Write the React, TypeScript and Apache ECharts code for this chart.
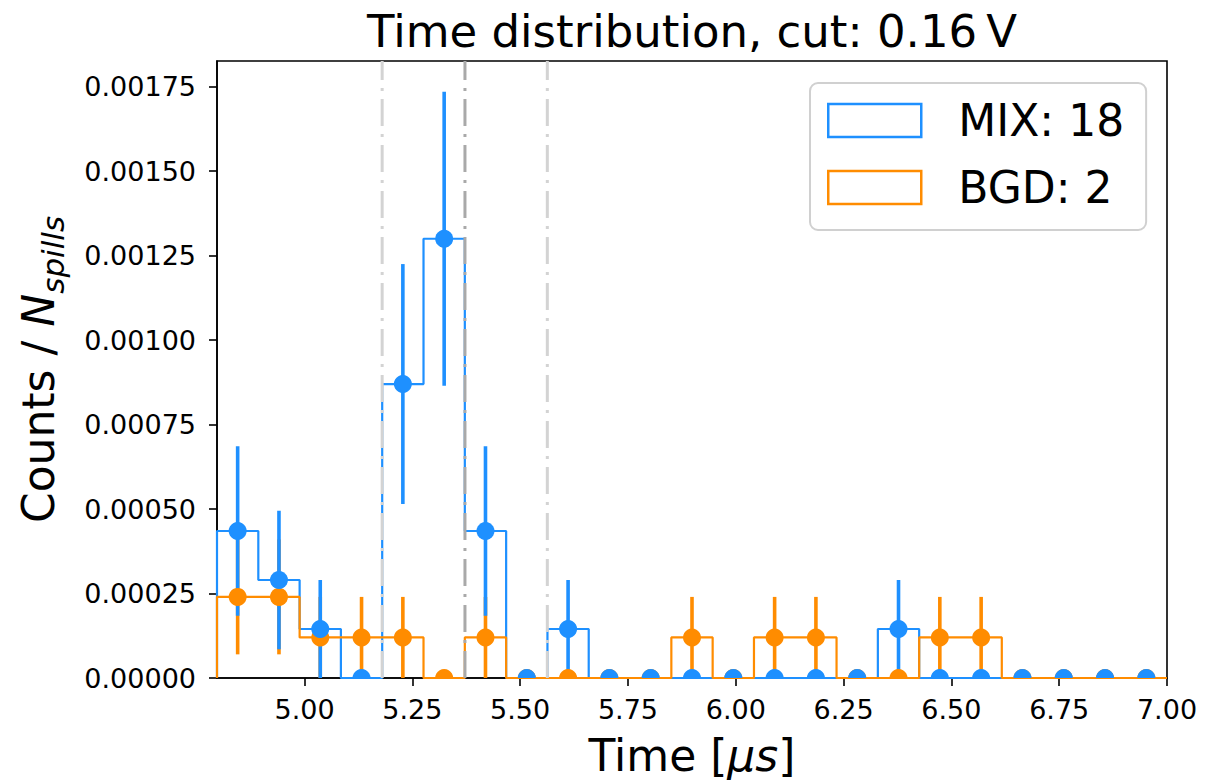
import React, { useEffect, useRef } from "react";
import * as echarts from "echarts";

// ---- data ----
const binEdges = [
  4.797, 4.8928, 4.9886, 5.0843, 5.1801, 5.2759, 5.3717, 5.4675, 5.5633, 5.659,
  5.7548, 5.8506, 5.9464, 6.0422, 6.138, 6.2337, 6.3295, 6.4253, 6.5211, 6.6169,
  6.7127, 6.8084, 6.9042, 7.0,
];
const mixValues = [
  0.000435, 0.00029, 0.000145, 0, 0.00087, 0.0013, 0.000435, 0, 0.000145, 0, 0, 0,
  0, 0, 0, 0, 0.000145, 0, 0, 0, 0, 0, 0,
];
const mixErrors = [
  0.000251, 0.000205, 0.000145, 0, 0.000355, 0.000435, 0.000251, 0, 0.000145, 0, 0, 0,
  0, 0, 0, 0, 0.000145, 0, 0, 0, 0, 0, 0,
];
const bgdValues = [
  0.00024, 0.00024, 0.00012, 0.00012, 0.00012, 0, 0.00012, 0, 0, 0, 0, 0.00012,
  0, 0.00012, 0.00012, 0, 0, 0.00012, 0.00012, 0, 0, 0, 0,
];
const bgdErrors = [
  0.00017, 0.00017, 0.00012, 0.00012, 0.00012, 0, 0.00012, 0, 0, 0, 0, 0.00012,
  0, 0.00012, 0.00012, 0, 0, 0.00012, 0.00012, 0, 0, 0, 0,
];
const cutLines = [5.18, 5.372, 5.563];
const xTickValues = [5.0, 5.25, 5.5, 5.75, 6.0, 6.25, 6.5, 6.75, 7.0];
const yTickValues = [0, 0.00025, 0.0005, 0.00075, 0.001, 0.00125, 0.0015, 0.00175];
const xMin = 4.797;
const xMax = 7.0;
const yMax = 0.001826;
const mixName = "MIX: 18";
const bgdName = "BGD: 2";
const titleText = "Time distribution, cut: 0.16\u2009V";

// ---- styles ----
const BLUE = "#1e90ff";
const ORANGE = "#ff8c00";
const FONT = "DejaVu Sans";
const cutColors = ["#d3d3d3", "#a9a9a9", "#d3d3d3"];

const centers = binEdges.slice(0, -1).map((e, i) => (e + binEdges[i + 1]) / 2);

function stepData(values: number[]) {
  const pts: number[][] = [[binEdges[0], 0]];
  values.forEach((v, i) => {
    pts.push([binEdges[i], v]);
    pts.push([binEdges[i + 1], v]);
  });
  pts.push([binEdges[binEdges.length - 1], 0]);
  return pts;
}

function pointData(values: number[], errors: number[]) {
  return values.map((v, i) => [centers[i], v, errors[i]]);
}

function errorSeries(name: string, values: number[], errors: number[], color: string, z: number) {
  return {
    name,
    type: "custom",
    coordinateSystem: "cartesian2d",
    z,
    silent: true,
    data: pointData(values, errors),
    renderItem: (_params: any, api: any) => {
      const x = api.value(0);
      const v = api.value(1);
      const e = api.value(2);
      if (!e) return { type: "group", children: [] };
      const p1 = api.coord([x, v - e]);
      const p2 = api.coord([x, v + e]);
      return {
        type: "line",
        shape: { x1: p1[0], y1: p1[1], x2: p2[0], y2: p2[1] },
        style: { stroke: color, lineWidth: 3.6 },
      };
    },
  };
}

function markerSeries(name: string, values: number[], errors: number[], color: string, z: number) {
  return {
    name,
    type: "custom",
    coordinateSystem: "cartesian2d",
    clip: true,
    z,
    silent: true,
    data: pointData(values, errors),
    renderItem: (_params: any, api: any) => {
      const p = api.coord([api.value(0), api.value(1)]);
      return {
        type: "circle",
        shape: { cx: p[0], cy: p[1], r: 9 },
        style: { fill: color },
      };
    },
  };
}

export default function App() {
  const ref = useRef<HTMLDivElement>(null);

  useEffect(() => {
    if (!ref.current) return;
    const chart = echarts.init(ref.current, null, { renderer: "svg" });
    const option: any = {
      animation: false,
      backgroundColor: "#ffffff",
      title: {
        text: titleText,
        left: 692,
        top: 9,
        textAlign: "center",
        padding: 0,
        textStyle: { fontFamily: FONT, fontSize: 45, fontWeight: "normal", color: "#000" },
      },
      legend: {
        orient: "vertical",
        left: 810,
        top: 83,
        padding: [15.5, 22, 20.5, 17],
        itemWidth: 93,
        itemHeight: 33,
        itemGap: 23,
        icon: "rect",
        backgroundColor: "#ffffff",
        borderColor: "#d0d0d0",
        borderWidth: 2,
        borderRadius: 8,
        selectedMode: false,
        textStyle: {
          fontFamily: FONT,
          fontSize: 44,
          lineHeight: 44,
          color: "#000",
          padding: [0, 0, 0, 32],
        },
        data: [
          { name: mixName, itemStyle: { color: "transparent", borderColor: BLUE, borderWidth: 2.5 } },
          { name: bgdName, itemStyle: { color: "transparent", borderColor: ORANGE, borderWidth: 2.5 } },
        ],
      },
      grid: {
        left: 217,
        top: 61,
        width: 950,
        height: 617,
        containLabel: false,
        outerBoundsMode: "none",
        show: true,
        borderColor: "#000",
        borderWidth: 1.6,
        backgroundColor: "transparent",
      },
      xAxis: {
        type: "value",
        min: xMin,
        max: xMax,
        name: "Time [{i|μs}]",
        nameLocation: "middle",
        nameGap: 55,
        nameTextStyle: {
          fontFamily: FONT,
          fontSize: 44,
          color: "#000",
          rich: { i: { fontFamily: FONT, fontSize: 44, fontStyle: "italic", color: "#000" } },
        },
        axisLine: { show: true, lineStyle: { color: "#000", width: 1.6 } },
        axisTick: {
          show: true,
          length: 8,
          inside: false,
          lineStyle: { color: "#000", width: 1.6 },
          customValues: xTickValues,
        },
        axisLabel: {
          fontFamily: FONT,
          fontSize: 27,
          color: "#000",
          margin: 18,
          customValues: xTickValues,
          formatter: (v: number) => v.toFixed(2),
        },
        splitLine: { show: false },
      },
      yAxis: {
        type: "value",
        min: 0,
        max: yMax,
        name: "{c|Counts / }{n|N}{s|spills}",
        nameLocation: "middle",
        nameRotate: 90,
        nameGap: 149,
        nameTextStyle: {
          fontFamily: FONT,
          fontSize: 44,
          color: "#000",
          rich: {
            c: { fontFamily: FONT, fontSize: 44, color: "#000", lineHeight: 44, verticalAlign: "top" },
            n: { fontFamily: FONT, fontSize: 44, fontStyle: "italic", color: "#000", lineHeight: 44, verticalAlign: "top" },
            s: { fontFamily: FONT, fontSize: 31, fontStyle: "italic", color: "#000", lineHeight: 52, verticalAlign: "bottom" },
          },
        },
        axisLine: { show: true, lineStyle: { color: "#000", width: 1.6 } },
        axisTick: {
          show: true,
          length: 8,
          inside: false,
          lineStyle: { color: "#000", width: 1.6 },
          customValues: yTickValues,
        },
        axisLabel: {
          fontFamily: FONT,
          fontSize: 27,
          color: "#000",
          margin: 21,
          customValues: yTickValues,
          formatter: (v: number) => v.toFixed(5),
        },
        splitLine: { show: false },
      },
      series: [
        {
          name: mixName,
          type: "line",
          data: stepData(mixValues),
          showSymbol: false,
          symbol: "none",
          lineStyle: { color: BLUE, width: 2.2 },
          itemStyle: { color: BLUE },
          z: 2,
          silent: true,
        },
        {
          name: bgdName,
          type: "line",
          data: stepData(bgdValues),
          showSymbol: false,
          symbol: "none",
          lineStyle: { color: ORANGE, width: 2.2 },
          itemStyle: { color: ORANGE },
          z: 3,
          silent: true,
        },
        {
          type: "custom",
          coordinateSystem: "cartesian2d",
          z: 4,
          silent: true,
          data: cutLines.map((x, i) => [x, i]),
          renderItem: (_params: any, api: any) => {
            const x = api.value(0);
            const idx = api.value(1);
            const p1 = api.coord([x, 0]);
            const p2 = api.coord([x, yMax]);
            return {
              type: "line",
              shape: { x1: p1[0], y1: p1[1], x2: p2[0], y2: p2[1] },
              style: { stroke: cutColors[idx], lineWidth: 3, lineDash: [27, 8, 3, 8] },
            };
          },
        },
        errorSeries(bgdName, bgdValues, bgdErrors, ORANGE, 5),
        errorSeries(mixName, mixValues, mixErrors, BLUE, 6),
        markerSeries(bgdName, bgdValues, bgdErrors, ORANGE, 7),
        markerSeries(mixName, mixValues, mixErrors, BLUE, 8),
      ],
    };
    chart.setOption(option);
    return () => chart.dispose();
  }, []);

  return (
    <div
      ref={ref}
      style={{ position: "absolute", left: 0, top: 0, width: 1223, height: 781, background: "#fff" }}
    />
  );
}
